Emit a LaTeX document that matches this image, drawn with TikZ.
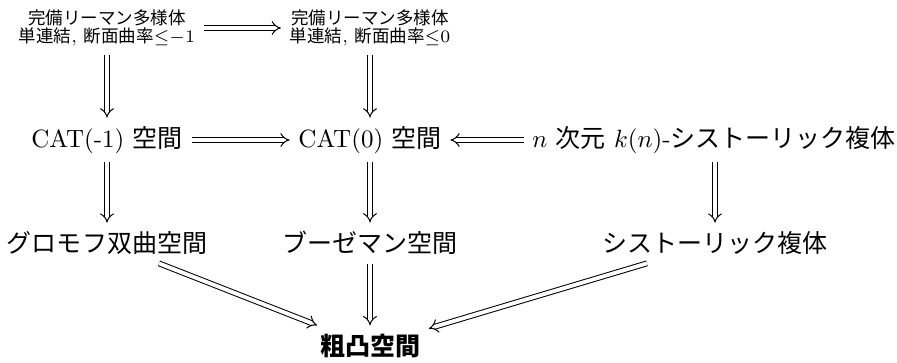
\documentclass[tikz,border=0pt]{standalone}
\usepackage{fontspec}
\newfontfamily\jp{Noto Sans CJK JP}
\usetikzlibrary{arrows.meta}
\begin{document}
\begin{tikzpicture}[x=0.4pt,y=-0.4pt,
  imp/.style={double, double equal sign distance, -Implies, line width=0.4pt},
  lbl/.style={inner sep=0.3333em, anchor=center, font=\normalsize},
  small/.style={align=center, inner sep=0.3333em, font=\fontsize{7}{7}\selectfont}]
\useasboundingbox (0,0) rectangle (897,362);
\node[small] (rm1) at (107,28) {{\jp 完備リーマン多様体}\\{\jp 単連結}, {\jp 断面曲率}${\leq}{-1}$};
\node[small] (rm0) at (370,28) {{\jp 完備リーマン多様体}\\{\jp 単連結}, {\jp 断面曲率}${\leq}0$};
\node[lbl] (cat1) at (107,140) {CAT(-1) {\jp 空間}};
\node[lbl] (cat0) at (370,140) {CAT(0) {\jp 空間}};
\node[lbl] (nsys) at (714,140) {$n$ {\jp 次元} $k(n)$-{\jp シストーリック複体}};
\node[lbl] (gro) at (107,243) {{\jp グロモフ双曲空間}};
\node[lbl] (bus) at (370,243) {{\jp ブーゼマン空間}};
\node[lbl] (sys) at (715,243) {{\jp シストーリック複体}};
\node[lbl] (cc) at (370,346) {{\jp\bfseries 粗凸空間}};
\draw[imp] (rm1) -- (rm0);
\draw[imp] (rm1) -- (cat1);
\draw[imp] (rm0) -- (cat0);
\draw[imp] (cat1) -- (cat0);
\draw[imp] (nsys) -- (cat0);
\draw[imp] (cat1) -- (gro);
\draw[imp] (cat0) -- (bus);
\draw[imp] (nsys.south -| sys) -- (sys);
\draw[imp] (gro) -- (cc);
\draw[imp] (bus) -- (cc);
\draw[imp] (sys) -- (cc);
\end{tikzpicture}
\end{document}
